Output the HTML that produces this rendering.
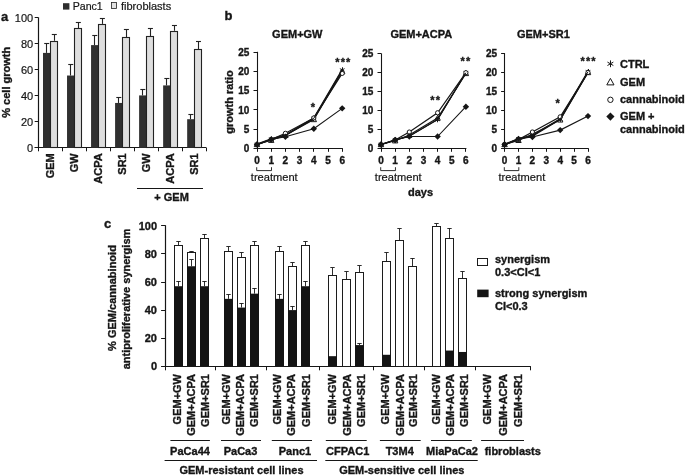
<!DOCTYPE html>
<html><head><meta charset="utf-8"><title>Figure</title>
<style>
html,body{margin:0;padding:0;background:#fff;}
body{width:685px;height:476px;overflow:hidden;font-family:"Liberation Sans",sans-serif;}
svg{display:block;will-change:transform;opacity:0.999;font-family:"Liberation Sans",sans-serif;}
</style></head><body>
<svg width="685" height="476" viewBox="0 0 685 476">
<rect width="685" height="476" fill="#ffffff"/>
<text x="1.00" y="21.00" font-size="13" font-weight="bold" stroke="#161616" stroke-width="0.35" text-anchor="start" fill="#161616">a</text>
<rect x="63.00" y="3.20" width="6.40" height="6.40" fill="#2e2e2e"/>
<text x="72.70" y="9.50" font-size="10.6" stroke="#161616" stroke-width="0.2" text-anchor="start" fill="#161616">Panc1</text>
<rect x="111.50" y="2.50" width="5.00" height="6.00" fill="#e2e2e2" stroke="#222" stroke-width="0.8"/>
<text x="121.00" y="9.60" font-size="11" stroke="#161616" stroke-width="0.2" text-anchor="start" fill="#161616">fibroblasts</text>
<line x1="38.50" y1="17.30" x2="38.50" y2="148.30" stroke="#161616" stroke-width="1.2"/>
<line x1="34.70" y1="147.50" x2="206.40" y2="147.50" stroke="#161616" stroke-width="1.2"/>
<line x1="34.70" y1="147.50" x2="38.20" y2="147.50" stroke="#161616" stroke-width="1"/>
<text x="33.20" y="151.70" font-size="11" stroke="#161616" stroke-width="0.2" text-anchor="end" fill="#161616">0</text>
<line x1="34.70" y1="121.50" x2="38.20" y2="121.50" stroke="#161616" stroke-width="1"/>
<text x="33.20" y="125.70" font-size="11" stroke="#161616" stroke-width="0.2" text-anchor="end" fill="#161616">20</text>
<line x1="34.70" y1="95.50" x2="38.20" y2="95.50" stroke="#161616" stroke-width="1"/>
<text x="33.20" y="99.70" font-size="11" stroke="#161616" stroke-width="0.2" text-anchor="end" fill="#161616">40</text>
<line x1="34.70" y1="69.50" x2="38.20" y2="69.50" stroke="#161616" stroke-width="1"/>
<text x="33.20" y="73.70" font-size="11" stroke="#161616" stroke-width="0.2" text-anchor="end" fill="#161616">60</text>
<line x1="34.70" y1="43.50" x2="38.20" y2="43.50" stroke="#161616" stroke-width="1"/>
<text x="33.20" y="47.70" font-size="11" stroke="#161616" stroke-width="0.2" text-anchor="end" fill="#161616">80</text>
<line x1="34.70" y1="17.50" x2="38.20" y2="17.50" stroke="#161616" stroke-width="1"/>
<text x="33.20" y="21.70" font-size="11" stroke="#161616" stroke-width="0.2" text-anchor="end" fill="#161616">100</text>
<line x1="38.50" y1="147.80" x2="38.50" y2="151.30" stroke="#161616" stroke-width="1"/>
<line x1="62.50" y1="147.80" x2="62.50" y2="151.30" stroke="#161616" stroke-width="1"/>
<line x1="86.50" y1="147.80" x2="86.50" y2="151.30" stroke="#161616" stroke-width="1"/>
<line x1="110.50" y1="147.80" x2="110.50" y2="151.30" stroke="#161616" stroke-width="1"/>
<line x1="134.50" y1="147.80" x2="134.50" y2="151.30" stroke="#161616" stroke-width="1"/>
<line x1="158.50" y1="147.80" x2="158.50" y2="151.30" stroke="#161616" stroke-width="1"/>
<line x1="182.50" y1="147.80" x2="182.50" y2="151.30" stroke="#161616" stroke-width="1"/>
<line x1="206.50" y1="147.80" x2="206.50" y2="151.30" stroke="#161616" stroke-width="1"/>
<text x="10.00" y="82.30" font-size="11" font-weight="bold" stroke="#161616" stroke-width="0.35" text-anchor="middle" transform="rotate(-90 10.00 82.30)" fill="#161616">% cell growth</text>
<rect x="43.00" y="52.90" width="7.40" height="94.90" fill="#303030"/>
<rect x="50.50" y="41.50" width="7.00" height="106.00" fill="#dedede" stroke="#222" stroke-width="1.1"/>
<line x1="46.50" y1="52.90" x2="46.50" y2="43.80" stroke="#222" stroke-width="1.1"/>
<line x1="44.20" y1="43.50" x2="49.20" y2="43.50" stroke="#222" stroke-width="1.1"/>
<line x1="54.50" y1="40.81" x2="54.50" y2="34.96" stroke="#222" stroke-width="1.1"/>
<line x1="51.80" y1="34.50" x2="56.80" y2="34.50" stroke="#222" stroke-width="1.1"/>
<text x="54.21" y="153.30" font-size="11" font-weight="bold" stroke="#161616" stroke-width="0.35" text-anchor="end" transform="rotate(-90 54.21 153.30)" fill="#161616">GEM</text>
<rect x="67.03" y="75.52" width="7.40" height="72.28" fill="#303030"/>
<rect x="74.50" y="28.50" width="7.00" height="119.00" fill="#dedede" stroke="#222" stroke-width="1.1"/>
<line x1="70.50" y1="75.52" x2="70.50" y2="64.60" stroke="#222" stroke-width="1.1"/>
<line x1="68.23" y1="64.50" x2="73.23" y2="64.50" stroke="#222" stroke-width="1.1"/>
<line x1="78.50" y1="28.20" x2="78.50" y2="22.35" stroke="#222" stroke-width="1.1"/>
<line x1="75.83" y1="22.50" x2="80.83" y2="22.50" stroke="#222" stroke-width="1.1"/>
<text x="78.24" y="153.30" font-size="11" font-weight="bold" stroke="#161616" stroke-width="0.35" text-anchor="end" transform="rotate(-90 78.24 153.30)" fill="#161616">GW</text>
<rect x="91.06" y="45.10" width="7.40" height="102.70" fill="#303030"/>
<rect x="98.50" y="24.50" width="7.00" height="123.00" fill="#dedede" stroke="#222" stroke-width="1.1"/>
<line x1="94.50" y1="45.10" x2="94.50" y2="35.22" stroke="#222" stroke-width="1.1"/>
<line x1="92.26" y1="35.50" x2="97.26" y2="35.50" stroke="#222" stroke-width="1.1"/>
<line x1="102.50" y1="23.91" x2="102.50" y2="18.45" stroke="#222" stroke-width="1.1"/>
<line x1="99.86" y1="18.50" x2="104.86" y2="18.50" stroke="#222" stroke-width="1.1"/>
<text x="102.27" y="153.30" font-size="11" font-weight="bold" stroke="#161616" stroke-width="0.35" text-anchor="end" transform="rotate(-90 102.27 153.30)" fill="#161616">ACPA</text>
<rect x="115.09" y="102.95" width="7.40" height="44.85" fill="#303030"/>
<rect x="122.50" y="37.50" width="7.00" height="110.00" fill="#dedede" stroke="#222" stroke-width="1.1"/>
<line x1="118.50" y1="102.95" x2="118.50" y2="97.62" stroke="#222" stroke-width="1.1"/>
<line x1="116.29" y1="97.50" x2="121.29" y2="97.50" stroke="#222" stroke-width="1.1"/>
<line x1="126.50" y1="37.30" x2="126.50" y2="29.50" stroke="#222" stroke-width="1.1"/>
<line x1="123.89" y1="29.50" x2="128.89" y2="29.50" stroke="#222" stroke-width="1.1"/>
<text x="126.30" y="153.30" font-size="11" font-weight="bold" stroke="#161616" stroke-width="0.35" text-anchor="end" transform="rotate(-90 126.30 153.30)" fill="#161616">SR1</text>
<rect x="139.11" y="95.41" width="7.40" height="52.39" fill="#303030"/>
<rect x="146.50" y="36.50" width="7.00" height="111.00" fill="#dedede" stroke="#222" stroke-width="1.1"/>
<line x1="142.50" y1="95.41" x2="142.50" y2="89.04" stroke="#222" stroke-width="1.1"/>
<line x1="140.31" y1="89.50" x2="145.31" y2="89.50" stroke="#222" stroke-width="1.1"/>
<line x1="150.50" y1="36.00" x2="150.50" y2="28.72" stroke="#222" stroke-width="1.1"/>
<line x1="147.91" y1="28.50" x2="152.91" y2="28.50" stroke="#222" stroke-width="1.1"/>
<text x="150.33" y="153.30" font-size="11" font-weight="bold" stroke="#161616" stroke-width="0.35" text-anchor="end" transform="rotate(-90 150.33 153.30)" fill="#161616">GW</text>
<rect x="163.14" y="85.40" width="7.40" height="62.40" fill="#303030"/>
<rect x="170.50" y="31.50" width="7.00" height="116.00" fill="#dedede" stroke="#222" stroke-width="1.1"/>
<line x1="166.50" y1="85.40" x2="166.50" y2="78.64" stroke="#222" stroke-width="1.1"/>
<line x1="164.34" y1="78.50" x2="169.34" y2="78.50" stroke="#222" stroke-width="1.1"/>
<line x1="174.50" y1="30.80" x2="174.50" y2="25.08" stroke="#222" stroke-width="1.1"/>
<line x1="171.94" y1="25.50" x2="176.94" y2="25.50" stroke="#222" stroke-width="1.1"/>
<text x="174.36" y="153.30" font-size="11" font-weight="bold" stroke="#161616" stroke-width="0.35" text-anchor="end" transform="rotate(-90 174.36 153.30)" fill="#161616">ACPA</text>
<rect x="187.17" y="119.20" width="7.40" height="28.60" fill="#303030"/>
<rect x="194.50" y="49.50" width="7.00" height="98.00" fill="#dedede" stroke="#222" stroke-width="1.1"/>
<line x1="190.50" y1="119.20" x2="190.50" y2="114.26" stroke="#222" stroke-width="1.1"/>
<line x1="188.37" y1="114.50" x2="193.37" y2="114.50" stroke="#222" stroke-width="1.1"/>
<line x1="198.50" y1="49.00" x2="198.50" y2="41.85" stroke="#222" stroke-width="1.1"/>
<line x1="195.97" y1="41.50" x2="200.97" y2="41.50" stroke="#222" stroke-width="1.1"/>
<text x="198.39" y="153.30" font-size="11" font-weight="bold" stroke="#161616" stroke-width="0.35" text-anchor="end" transform="rotate(-90 198.39 153.30)" fill="#161616">SR1</text>
<line x1="137.00" y1="188.50" x2="203.00" y2="188.50" stroke="#161616" stroke-width="1.1"/>
<text x="171.60" y="200.60" font-size="11" font-weight="bold" stroke="#161616" stroke-width="0.35" text-anchor="middle" fill="#161616">+ GEM</text>
<text x="224.50" y="19.60" font-size="13" font-weight="bold" stroke="#161616" stroke-width="0.35" text-anchor="start" fill="#161616">b</text>
<text x="232.90" y="102.00" font-size="11" font-weight="bold" stroke="#161616" stroke-width="0.35" text-anchor="middle" transform="rotate(-90 232.90 102.00)" fill="#161616">growth ratio</text>
<text x="297.30" y="37.50" font-size="11" font-weight="bold" stroke="#161616" stroke-width="0.35" text-anchor="middle" fill="#161616">GEM+GW</text>
<line x1="257.50" y1="51.80" x2="257.50" y2="148.80" stroke="#161616" stroke-width="1.1"/>
<line x1="254.00" y1="148.50" x2="342.70" y2="148.50" stroke="#161616" stroke-width="1.1"/>
<line x1="253.50" y1="148.50" x2="257.00" y2="148.50" stroke="#161616" stroke-width="1"/>
<text x="249.40" y="151.90" font-size="10" font-weight="bold" stroke="#161616" stroke-width="0.35" text-anchor="end" fill="#161616">0</text>
<line x1="253.50" y1="129.50" x2="257.00" y2="129.50" stroke="#161616" stroke-width="1"/>
<text x="249.40" y="132.70" font-size="10" font-weight="bold" stroke="#161616" stroke-width="0.35" text-anchor="end" fill="#161616">5</text>
<line x1="253.50" y1="109.50" x2="257.00" y2="109.50" stroke="#161616" stroke-width="1"/>
<text x="249.40" y="113.50" font-size="10" font-weight="bold" stroke="#161616" stroke-width="0.35" text-anchor="end" fill="#161616">10</text>
<line x1="253.50" y1="90.50" x2="257.00" y2="90.50" stroke="#161616" stroke-width="1"/>
<text x="249.40" y="94.30" font-size="10" font-weight="bold" stroke="#161616" stroke-width="0.35" text-anchor="end" fill="#161616">15</text>
<line x1="253.50" y1="71.50" x2="257.00" y2="71.50" stroke="#161616" stroke-width="1"/>
<text x="249.40" y="75.10" font-size="10" font-weight="bold" stroke="#161616" stroke-width="0.35" text-anchor="end" fill="#161616">20</text>
<line x1="253.50" y1="52.50" x2="257.00" y2="52.50" stroke="#161616" stroke-width="1"/>
<text x="249.40" y="55.90" font-size="10" font-weight="bold" stroke="#161616" stroke-width="0.35" text-anchor="end" fill="#161616">25</text>
<line x1="257.50" y1="148.30" x2="257.50" y2="151.80" stroke="#161616" stroke-width="1"/>
<text x="257.00" y="163.60" font-size="10" font-weight="bold" stroke="#161616" stroke-width="0.35" text-anchor="middle" fill="#161616">0</text>
<line x1="271.50" y1="148.30" x2="271.50" y2="151.80" stroke="#161616" stroke-width="1"/>
<text x="271.20" y="163.60" font-size="10" font-weight="bold" stroke="#161616" stroke-width="0.35" text-anchor="middle" fill="#161616">1</text>
<line x1="285.50" y1="148.30" x2="285.50" y2="151.80" stroke="#161616" stroke-width="1"/>
<text x="285.40" y="163.60" font-size="10" font-weight="bold" stroke="#161616" stroke-width="0.35" text-anchor="middle" fill="#161616">2</text>
<line x1="299.50" y1="148.30" x2="299.50" y2="151.80" stroke="#161616" stroke-width="1"/>
<text x="299.60" y="163.60" font-size="10" font-weight="bold" stroke="#161616" stroke-width="0.35" text-anchor="middle" fill="#161616">3</text>
<line x1="313.50" y1="148.30" x2="313.50" y2="151.80" stroke="#161616" stroke-width="1"/>
<text x="313.80" y="163.60" font-size="10" font-weight="bold" stroke="#161616" stroke-width="0.35" text-anchor="middle" fill="#161616">4</text>
<line x1="328.50" y1="148.30" x2="328.50" y2="151.80" stroke="#161616" stroke-width="1"/>
<text x="328.00" y="163.60" font-size="10" font-weight="bold" stroke="#161616" stroke-width="0.35" text-anchor="middle" fill="#161616">5</text>
<line x1="342.50" y1="148.30" x2="342.50" y2="151.80" stroke="#161616" stroke-width="1"/>
<text x="342.20" y="163.60" font-size="10" font-weight="bold" stroke="#161616" stroke-width="0.35" text-anchor="middle" fill="#161616">6</text>
<polyline fill="none" stroke="#161616" stroke-width="1.8" points="257.00,144.46 271.20,139.08 285.40,135.24 313.80,118.35 342.20,69.96"/>
<line x1="254.66" y1="143.11" x2="259.34" y2="145.81" stroke="#161616" stroke-width="1.0"/>
<line x1="257.50" y1="141.76" x2="257.50" y2="147.16" stroke="#161616" stroke-width="1.0"/>
<line x1="259.34" y1="143.11" x2="254.66" y2="145.81" stroke="#161616" stroke-width="1.0"/>
<line x1="268.86" y1="137.73" x2="273.54" y2="140.43" stroke="#161616" stroke-width="1.0"/>
<line x1="271.50" y1="136.38" x2="271.50" y2="141.78" stroke="#161616" stroke-width="1.0"/>
<line x1="273.54" y1="137.73" x2="268.86" y2="140.43" stroke="#161616" stroke-width="1.0"/>
<line x1="283.06" y1="133.89" x2="287.74" y2="136.59" stroke="#161616" stroke-width="1.0"/>
<line x1="285.50" y1="132.54" x2="285.50" y2="137.94" stroke="#161616" stroke-width="1.0"/>
<line x1="287.74" y1="133.89" x2="283.06" y2="136.59" stroke="#161616" stroke-width="1.0"/>
<line x1="311.46" y1="117.00" x2="316.14" y2="119.70" stroke="#161616" stroke-width="1.0"/>
<line x1="313.50" y1="115.65" x2="313.50" y2="121.05" stroke="#161616" stroke-width="1.0"/>
<line x1="316.14" y1="117.00" x2="311.46" y2="119.70" stroke="#161616" stroke-width="1.0"/>
<line x1="339.86" y1="68.61" x2="344.54" y2="71.31" stroke="#161616" stroke-width="1.0"/>
<line x1="342.50" y1="67.26" x2="342.50" y2="72.66" stroke="#161616" stroke-width="1.0"/>
<line x1="344.54" y1="68.61" x2="339.86" y2="71.31" stroke="#161616" stroke-width="1.0"/>
<polyline fill="none" stroke="#161616" stroke-width="1.2" points="257.00,144.46 271.20,140.24 285.40,135.24 313.80,119.50 342.20,71.50"/>
<polygon points="257.00,141.76 254.30,146.62 259.70,146.62" fill="#fff" fill-opacity="0" stroke="#161616" stroke-width="1.0"/>
<polygon points="271.20,137.54 268.50,142.40 273.90,142.40" fill="#fff" fill-opacity="0" stroke="#161616" stroke-width="1.0"/>
<polygon points="285.40,132.54 282.70,137.40 288.10,137.40" fill="#fff" fill-opacity="0" stroke="#161616" stroke-width="1.0"/>
<polygon points="313.80,116.80 311.10,121.66 316.50,121.66" fill="#fff" fill-opacity="0" stroke="#161616" stroke-width="1.0"/>
<polygon points="342.20,68.80 339.50,73.66 344.90,73.66" fill="#fff" fill-opacity="0" stroke="#161616" stroke-width="1.0"/>
<polyline fill="none" stroke="#161616" stroke-width="1.2" points="257.00,144.46 271.20,139.47 285.40,133.32 313.80,117.96 342.20,73.42"/>
<circle cx="257.00" cy="144.46" r="2.1" fill="#fff" stroke="#161616" stroke-width="1.0"/>
<circle cx="271.20" cy="139.47" r="2.1" fill="#fff" stroke="#161616" stroke-width="1.0"/>
<circle cx="285.40" cy="133.32" r="2.1" fill="#fff" stroke="#161616" stroke-width="1.0"/>
<circle cx="313.80" cy="117.96" r="2.1" fill="#fff" stroke="#161616" stroke-width="1.0"/>
<circle cx="342.20" cy="73.42" r="2.1" fill="#fff" stroke="#161616" stroke-width="1.0"/>
<polyline fill="none" stroke="#161616" stroke-width="1.0" points="257.00,144.46 271.20,139.08 285.40,135.24 313.80,118.35 342.20,69.96"/>
<polyline fill="none" stroke="#161616" stroke-width="1.1" points="257.00,144.46 271.20,139.47 285.40,136.78 313.80,128.72 342.20,108.36"/>
<polygon points="257.00,141.26 260.20,144.46 257.00,147.66 253.80,144.46" fill="#161616"/>
<polygon points="271.20,136.27 274.40,139.47 271.20,142.67 268.00,139.47" fill="#161616"/>
<polygon points="285.40,133.58 288.60,136.78 285.40,139.98 282.20,136.78" fill="#161616"/>
<polygon points="313.80,125.52 317.00,128.72 313.80,131.92 310.60,128.72" fill="#161616"/>
<polygon points="342.20,105.16 345.40,108.36 342.20,111.56 339.00,108.36" fill="#161616"/>
<polyline fill="none" stroke="#161616" stroke-width="0.9" points="256.70,167.2 256.70,170.6 271.50,170.6 271.50,167.2"/>
<text x="250.80" y="181.00" font-size="11.1" stroke="#161616" stroke-width="0.2" text-anchor="start" fill="#161616">treatment</text>
<text x="313.45" y="110.50" font-size="11" font-weight="bold" stroke="#161616" stroke-width="0.35" text-anchor="middle" fill="#161616" letter-spacing="1.1">*</text>
<text x="343.45" y="66.00" font-size="11" font-weight="bold" stroke="#161616" stroke-width="0.35" text-anchor="middle" fill="#161616" letter-spacing="1.1">***</text>
<text x="421.30" y="37.50" font-size="11" font-weight="bold" stroke="#161616" stroke-width="0.35" text-anchor="middle" fill="#161616">GEM+ACPA</text>
<line x1="381.50" y1="53.30" x2="381.50" y2="148.80" stroke="#161616" stroke-width="1.1"/>
<line x1="378.00" y1="148.50" x2="466.40" y2="148.50" stroke="#161616" stroke-width="1.1"/>
<line x1="377.50" y1="148.50" x2="381.00" y2="148.50" stroke="#161616" stroke-width="1"/>
<text x="373.40" y="151.90" font-size="10" font-weight="bold" stroke="#161616" stroke-width="0.35" text-anchor="end" fill="#161616">0</text>
<line x1="377.50" y1="129.50" x2="381.00" y2="129.50" stroke="#161616" stroke-width="1"/>
<text x="373.40" y="133.00" font-size="10" font-weight="bold" stroke="#161616" stroke-width="0.35" text-anchor="end" fill="#161616">5</text>
<line x1="377.50" y1="110.50" x2="381.00" y2="110.50" stroke="#161616" stroke-width="1"/>
<text x="373.40" y="114.10" font-size="10" font-weight="bold" stroke="#161616" stroke-width="0.35" text-anchor="end" fill="#161616">10</text>
<line x1="377.50" y1="91.50" x2="381.00" y2="91.50" stroke="#161616" stroke-width="1"/>
<text x="373.40" y="95.20" font-size="10" font-weight="bold" stroke="#161616" stroke-width="0.35" text-anchor="end" fill="#161616">15</text>
<line x1="377.50" y1="72.50" x2="381.00" y2="72.50" stroke="#161616" stroke-width="1"/>
<text x="373.40" y="76.30" font-size="10" font-weight="bold" stroke="#161616" stroke-width="0.35" text-anchor="end" fill="#161616">20</text>
<line x1="377.50" y1="53.50" x2="381.00" y2="53.50" stroke="#161616" stroke-width="1"/>
<text x="373.40" y="57.40" font-size="10" font-weight="bold" stroke="#161616" stroke-width="0.35" text-anchor="end" fill="#161616">25</text>
<line x1="381.50" y1="148.30" x2="381.50" y2="151.80" stroke="#161616" stroke-width="1"/>
<text x="381.00" y="163.60" font-size="10" font-weight="bold" stroke="#161616" stroke-width="0.35" text-anchor="middle" fill="#161616">0</text>
<line x1="395.50" y1="148.30" x2="395.50" y2="151.80" stroke="#161616" stroke-width="1"/>
<text x="395.15" y="163.60" font-size="10" font-weight="bold" stroke="#161616" stroke-width="0.35" text-anchor="middle" fill="#161616">1</text>
<line x1="409.50" y1="148.30" x2="409.50" y2="151.80" stroke="#161616" stroke-width="1"/>
<text x="409.30" y="163.60" font-size="10" font-weight="bold" stroke="#161616" stroke-width="0.35" text-anchor="middle" fill="#161616">2</text>
<line x1="423.50" y1="148.30" x2="423.50" y2="151.80" stroke="#161616" stroke-width="1"/>
<text x="423.45" y="163.60" font-size="10" font-weight="bold" stroke="#161616" stroke-width="0.35" text-anchor="middle" fill="#161616">3</text>
<line x1="437.50" y1="148.30" x2="437.50" y2="151.80" stroke="#161616" stroke-width="1"/>
<text x="437.60" y="163.60" font-size="10" font-weight="bold" stroke="#161616" stroke-width="0.35" text-anchor="middle" fill="#161616">4</text>
<line x1="451.50" y1="148.30" x2="451.50" y2="151.80" stroke="#161616" stroke-width="1"/>
<text x="451.75" y="163.60" font-size="10" font-weight="bold" stroke="#161616" stroke-width="0.35" text-anchor="middle" fill="#161616">5</text>
<line x1="465.50" y1="148.30" x2="465.50" y2="151.80" stroke="#161616" stroke-width="1"/>
<text x="465.90" y="163.60" font-size="10" font-weight="bold" stroke="#161616" stroke-width="0.35" text-anchor="middle" fill="#161616">6</text>
<polyline fill="none" stroke="#161616" stroke-width="1.3" points="381.00,144.52 395.15,139.98 409.30,136.20 437.60,119.57 465.90,72.70"/>
<line x1="378.66" y1="143.17" x2="383.34" y2="145.87" stroke="#161616" stroke-width="1.0"/>
<line x1="381.50" y1="141.82" x2="381.50" y2="147.22" stroke="#161616" stroke-width="1.0"/>
<line x1="383.34" y1="143.17" x2="378.66" y2="145.87" stroke="#161616" stroke-width="1.0"/>
<line x1="392.81" y1="138.63" x2="397.49" y2="141.33" stroke="#161616" stroke-width="1.0"/>
<line x1="395.50" y1="137.28" x2="395.50" y2="142.68" stroke="#161616" stroke-width="1.0"/>
<line x1="397.49" y1="138.63" x2="392.81" y2="141.33" stroke="#161616" stroke-width="1.0"/>
<line x1="406.96" y1="134.85" x2="411.64" y2="137.55" stroke="#161616" stroke-width="1.0"/>
<line x1="409.50" y1="133.50" x2="409.50" y2="138.90" stroke="#161616" stroke-width="1.0"/>
<line x1="411.64" y1="134.85" x2="406.96" y2="137.55" stroke="#161616" stroke-width="1.0"/>
<line x1="435.26" y1="118.22" x2="439.94" y2="120.92" stroke="#161616" stroke-width="1.0"/>
<line x1="437.50" y1="116.87" x2="437.50" y2="122.27" stroke="#161616" stroke-width="1.0"/>
<line x1="439.94" y1="118.22" x2="435.26" y2="120.92" stroke="#161616" stroke-width="1.0"/>
<line x1="463.56" y1="71.35" x2="468.24" y2="74.05" stroke="#161616" stroke-width="1.0"/>
<line x1="465.50" y1="70.00" x2="465.50" y2="75.40" stroke="#161616" stroke-width="1.0"/>
<line x1="468.24" y1="71.35" x2="463.56" y2="74.05" stroke="#161616" stroke-width="1.0"/>
<polyline fill="none" stroke="#161616" stroke-width="1.2" points="381.00,144.52 395.15,140.74 409.30,135.07 437.60,118.06 465.90,73.46"/>
<polygon points="381.00,141.82 378.30,146.68 383.70,146.68" fill="#fff" fill-opacity="0" stroke="#161616" stroke-width="1.0"/>
<polygon points="395.15,138.04 392.45,142.90 397.85,142.90" fill="#fff" fill-opacity="0" stroke="#161616" stroke-width="1.0"/>
<polygon points="409.30,132.37 406.60,137.23 412.00,137.23" fill="#fff" fill-opacity="0" stroke="#161616" stroke-width="1.0"/>
<polygon points="437.60,115.36 434.90,120.22 440.30,120.22" fill="#fff" fill-opacity="0" stroke="#161616" stroke-width="1.0"/>
<polygon points="465.90,70.76 463.20,75.62 468.60,75.62" fill="#fff" fill-opacity="0" stroke="#161616" stroke-width="1.0"/>
<polyline fill="none" stroke="#161616" stroke-width="1.2" points="381.00,144.52 395.15,139.98 409.30,132.05 437.60,112.77 465.90,72.70"/>
<circle cx="381.00" cy="144.52" r="2.1" fill="#fff" stroke="#161616" stroke-width="1.0"/>
<circle cx="395.15" cy="139.98" r="2.1" fill="#fff" stroke="#161616" stroke-width="1.0"/>
<circle cx="409.30" cy="132.05" r="2.1" fill="#fff" stroke="#161616" stroke-width="1.0"/>
<circle cx="437.60" cy="112.77" r="2.1" fill="#fff" stroke="#161616" stroke-width="1.0"/>
<circle cx="465.90" cy="72.70" r="2.1" fill="#fff" stroke="#161616" stroke-width="1.0"/>
<polyline fill="none" stroke="#161616" stroke-width="1.0" points="381.00,144.52 395.15,139.98 409.30,136.20 437.60,119.57 465.90,72.70"/>
<polyline fill="none" stroke="#161616" stroke-width="1.1" points="381.00,144.52 395.15,139.98 409.30,136.51 437.60,136.51 465.90,106.72"/>
<polygon points="381.00,141.32 384.20,144.52 381.00,147.72 377.80,144.52" fill="#161616"/>
<polygon points="395.15,136.78 398.35,139.98 395.15,143.18 391.95,139.98" fill="#161616"/>
<polygon points="409.30,133.31 412.50,136.51 409.30,139.71 406.10,136.51" fill="#161616"/>
<polygon points="437.60,133.31 440.80,136.51 437.60,139.71 434.40,136.51" fill="#161616"/>
<polygon points="465.90,103.52 469.10,106.72 465.90,109.92 462.70,106.72" fill="#161616"/>
<polyline fill="none" stroke="#161616" stroke-width="0.9" points="380.70,167.2 380.70,170.6 395.45,170.6 395.45,167.2"/>
<text x="374.80" y="181.00" font-size="11.1" stroke="#161616" stroke-width="0.2" text-anchor="start" fill="#161616">treatment</text>
<text x="435.65" y="104.40" font-size="11" font-weight="bold" stroke="#161616" stroke-width="0.35" text-anchor="middle" fill="#161616" letter-spacing="1.1">**</text>
<text x="465.95" y="65.10" font-size="11" font-weight="bold" stroke="#161616" stroke-width="0.35" text-anchor="middle" fill="#161616" letter-spacing="1.1">**</text>
<text x="543.40" y="37.50" font-size="11" font-weight="bold" stroke="#161616" stroke-width="0.35" text-anchor="middle" fill="#161616">GEM+SR1</text>
<line x1="504.50" y1="53.05" x2="504.50" y2="148.80" stroke="#161616" stroke-width="1.1"/>
<line x1="501.60" y1="148.50" x2="588.50" y2="148.50" stroke="#161616" stroke-width="1.1"/>
<line x1="501.10" y1="148.50" x2="504.60" y2="148.50" stroke="#161616" stroke-width="1"/>
<text x="497.00" y="151.90" font-size="10" font-weight="bold" stroke="#161616" stroke-width="0.35" text-anchor="end" fill="#161616">0</text>
<line x1="501.10" y1="129.50" x2="504.60" y2="129.50" stroke="#161616" stroke-width="1"/>
<text x="497.00" y="132.95" font-size="10" font-weight="bold" stroke="#161616" stroke-width="0.35" text-anchor="end" fill="#161616">5</text>
<line x1="501.10" y1="110.50" x2="504.60" y2="110.50" stroke="#161616" stroke-width="1"/>
<text x="497.00" y="114.00" font-size="10" font-weight="bold" stroke="#161616" stroke-width="0.35" text-anchor="end" fill="#161616">10</text>
<line x1="501.10" y1="91.50" x2="504.60" y2="91.50" stroke="#161616" stroke-width="1"/>
<text x="497.00" y="95.05" font-size="10" font-weight="bold" stroke="#161616" stroke-width="0.35" text-anchor="end" fill="#161616">15</text>
<line x1="501.10" y1="72.50" x2="504.60" y2="72.50" stroke="#161616" stroke-width="1"/>
<text x="497.00" y="76.10" font-size="10" font-weight="bold" stroke="#161616" stroke-width="0.35" text-anchor="end" fill="#161616">20</text>
<line x1="501.10" y1="53.50" x2="504.60" y2="53.50" stroke="#161616" stroke-width="1"/>
<text x="497.00" y="57.15" font-size="10" font-weight="bold" stroke="#161616" stroke-width="0.35" text-anchor="end" fill="#161616">25</text>
<line x1="504.50" y1="148.30" x2="504.50" y2="151.80" stroke="#161616" stroke-width="1"/>
<text x="504.60" y="163.60" font-size="10" font-weight="bold" stroke="#161616" stroke-width="0.35" text-anchor="middle" fill="#161616">0</text>
<line x1="518.50" y1="148.30" x2="518.50" y2="151.80" stroke="#161616" stroke-width="1"/>
<text x="518.50" y="163.60" font-size="10" font-weight="bold" stroke="#161616" stroke-width="0.35" text-anchor="middle" fill="#161616">1</text>
<line x1="532.50" y1="148.30" x2="532.50" y2="151.80" stroke="#161616" stroke-width="1"/>
<text x="532.40" y="163.60" font-size="10" font-weight="bold" stroke="#161616" stroke-width="0.35" text-anchor="middle" fill="#161616">2</text>
<line x1="546.50" y1="148.30" x2="546.50" y2="151.80" stroke="#161616" stroke-width="1"/>
<text x="546.30" y="163.60" font-size="10" font-weight="bold" stroke="#161616" stroke-width="0.35" text-anchor="middle" fill="#161616">3</text>
<line x1="560.50" y1="148.30" x2="560.50" y2="151.80" stroke="#161616" stroke-width="1"/>
<text x="560.20" y="163.60" font-size="10" font-weight="bold" stroke="#161616" stroke-width="0.35" text-anchor="middle" fill="#161616">4</text>
<line x1="574.50" y1="148.30" x2="574.50" y2="151.80" stroke="#161616" stroke-width="1"/>
<text x="574.10" y="163.60" font-size="10" font-weight="bold" stroke="#161616" stroke-width="0.35" text-anchor="middle" fill="#161616">5</text>
<line x1="588.50" y1="148.30" x2="588.50" y2="151.80" stroke="#161616" stroke-width="1"/>
<text x="588.00" y="163.60" font-size="10" font-weight="bold" stroke="#161616" stroke-width="0.35" text-anchor="middle" fill="#161616">6</text>
<polyline fill="none" stroke="#161616" stroke-width="1.8" points="504.60,144.51 518.50,138.83 532.40,135.79 560.20,119.12 588.00,71.74"/>
<line x1="502.26" y1="143.16" x2="506.94" y2="145.86" stroke="#161616" stroke-width="1.0"/>
<line x1="504.50" y1="141.81" x2="504.50" y2="147.21" stroke="#161616" stroke-width="1.0"/>
<line x1="506.94" y1="143.16" x2="502.26" y2="145.86" stroke="#161616" stroke-width="1.0"/>
<line x1="516.16" y1="137.48" x2="520.84" y2="140.18" stroke="#161616" stroke-width="1.0"/>
<line x1="518.50" y1="136.13" x2="518.50" y2="141.53" stroke="#161616" stroke-width="1.0"/>
<line x1="520.84" y1="137.48" x2="516.16" y2="140.18" stroke="#161616" stroke-width="1.0"/>
<line x1="530.06" y1="134.44" x2="534.74" y2="137.14" stroke="#161616" stroke-width="1.0"/>
<line x1="532.50" y1="133.09" x2="532.50" y2="138.49" stroke="#161616" stroke-width="1.0"/>
<line x1="534.74" y1="134.44" x2="530.06" y2="137.14" stroke="#161616" stroke-width="1.0"/>
<line x1="557.86" y1="117.77" x2="562.54" y2="120.47" stroke="#161616" stroke-width="1.0"/>
<line x1="560.50" y1="116.42" x2="560.50" y2="121.82" stroke="#161616" stroke-width="1.0"/>
<line x1="562.54" y1="117.77" x2="557.86" y2="120.47" stroke="#161616" stroke-width="1.0"/>
<line x1="585.66" y1="70.39" x2="590.34" y2="73.09" stroke="#161616" stroke-width="1.0"/>
<line x1="588.50" y1="69.04" x2="588.50" y2="74.44" stroke="#161616" stroke-width="1.0"/>
<line x1="590.34" y1="70.39" x2="585.66" y2="73.09" stroke="#161616" stroke-width="1.0"/>
<polyline fill="none" stroke="#161616" stroke-width="1.2" points="504.60,144.51 518.50,140.34 532.40,134.28 560.20,119.88 588.00,72.50"/>
<polygon points="504.60,141.81 501.90,146.67 507.30,146.67" fill="#fff" fill-opacity="0" stroke="#161616" stroke-width="1.0"/>
<polygon points="518.50,137.64 515.80,142.50 521.20,142.50" fill="#fff" fill-opacity="0" stroke="#161616" stroke-width="1.0"/>
<polygon points="532.40,131.58 529.70,136.44 535.10,136.44" fill="#fff" fill-opacity="0" stroke="#161616" stroke-width="1.0"/>
<polygon points="560.20,117.18 557.50,122.04 562.90,122.04" fill="#fff" fill-opacity="0" stroke="#161616" stroke-width="1.0"/>
<polygon points="588.00,69.80 585.30,74.66 590.70,74.66" fill="#fff" fill-opacity="0" stroke="#161616" stroke-width="1.0"/>
<polyline fill="none" stroke="#161616" stroke-width="1.2" points="504.60,144.51 518.50,139.58 532.40,132.00 560.20,116.84 588.00,72.50"/>
<circle cx="504.60" cy="144.51" r="2.1" fill="#fff" stroke="#161616" stroke-width="1.0"/>
<circle cx="518.50" cy="139.58" r="2.1" fill="#fff" stroke="#161616" stroke-width="1.0"/>
<circle cx="532.40" cy="132.00" r="2.1" fill="#fff" stroke="#161616" stroke-width="1.0"/>
<circle cx="560.20" cy="116.84" r="2.1" fill="#fff" stroke="#161616" stroke-width="1.0"/>
<circle cx="588.00" cy="72.50" r="2.1" fill="#fff" stroke="#161616" stroke-width="1.0"/>
<polyline fill="none" stroke="#161616" stroke-width="1.0" points="504.60,144.51 518.50,138.83 532.40,135.79 560.20,119.12 588.00,71.74"/>
<polyline fill="none" stroke="#161616" stroke-width="1.1" points="504.60,144.51 518.50,138.83 532.40,136.93 560.20,130.11 588.00,116.09"/>
<polygon points="504.60,141.31 507.80,144.51 504.60,147.71 501.40,144.51" fill="#161616"/>
<polygon points="518.50,135.63 521.70,138.83 518.50,142.03 515.30,138.83" fill="#161616"/>
<polygon points="532.40,133.73 535.60,136.93 532.40,140.13 529.20,136.93" fill="#161616"/>
<polygon points="560.20,126.91 563.40,130.11 560.20,133.31 557.00,130.11" fill="#161616"/>
<polygon points="588.00,112.89 591.20,116.09 588.00,119.29 584.80,116.09" fill="#161616"/>
<polyline fill="none" stroke="#161616" stroke-width="0.9" points="504.30,167.2 504.30,170.6 518.80,170.6 518.80,167.2"/>
<text x="498.40" y="181.00" font-size="11.1" stroke="#161616" stroke-width="0.2" text-anchor="start" fill="#161616">treatment</text>
<text x="558.15" y="106.90" font-size="11" font-weight="bold" stroke="#161616" stroke-width="0.35" text-anchor="middle" fill="#161616" letter-spacing="1.1">*</text>
<text x="588.65" y="64.50" font-size="11" font-weight="bold" stroke="#161616" stroke-width="0.35" text-anchor="middle" fill="#161616" letter-spacing="1.1">***</text>
<text x="420.50" y="196.20" font-size="11" font-weight="bold" stroke="#161616" stroke-width="0.35" text-anchor="middle" fill="#161616">days</text>
<line x1="607.46" y1="62.10" x2="613.34" y2="65.50" stroke="#161616" stroke-width="1.0"/>
<line x1="610.50" y1="60.40" x2="610.50" y2="67.20" stroke="#161616" stroke-width="1.0"/>
<line x1="613.34" y1="62.10" x2="607.46" y2="65.50" stroke="#161616" stroke-width="1.0"/>
<text x="620.00" y="67.70" font-size="11" font-weight="bold" stroke="#161616" stroke-width="0.35" text-anchor="start" fill="#161616">CTRL</text>
<polygon points="610.40,78.40 606.80,84.88 614.00,84.88" fill="#fff" fill-opacity="0" stroke="#161616" stroke-width="1.0"/>
<text x="620.00" y="85.60" font-size="11" font-weight="bold" stroke="#161616" stroke-width="0.35" text-anchor="start" fill="#161616">GEM</text>
<circle cx="610.40" cy="99.80" r="2.7" fill="#fff" stroke="#161616" stroke-width="1.0"/>
<text x="620.00" y="103.10" font-size="11" font-weight="bold" stroke="#161616" stroke-width="0.35" text-anchor="start" fill="#161616">cannabinoid</text>
<polygon points="610.40,112.50 614.50,116.60 610.40,120.70 606.30,116.60" fill="#161616"/>
<text x="620.00" y="119.50" font-size="11" font-weight="bold" stroke="#161616" stroke-width="0.35" text-anchor="start" fill="#161616">GEM +</text>
<text x="620.00" y="132.50" font-size="11" font-weight="bold" stroke="#161616" stroke-width="0.35" text-anchor="start" fill="#161616">cannabinoid</text>
<text x="104.00" y="228.30" font-size="13" font-weight="bold" stroke="#161616" stroke-width="0.35" text-anchor="start" fill="#161616">c</text>
<line x1="165.50" y1="225.30" x2="165.50" y2="366.80" stroke="#161616" stroke-width="1.2"/>
<line x1="161.60" y1="366.50" x2="530.80" y2="366.50" stroke="#161616" stroke-width="1.2"/>
<line x1="161.10" y1="366.50" x2="165.60" y2="366.50" stroke="#161616" stroke-width="1"/>
<text x="157.00" y="370.30" font-size="11" font-weight="bold" stroke="#161616" stroke-width="0.35" text-anchor="end" fill="#161616">0</text>
<line x1="161.10" y1="338.50" x2="165.60" y2="338.50" stroke="#161616" stroke-width="1"/>
<text x="157.00" y="342.20" font-size="11" font-weight="bold" stroke="#161616" stroke-width="0.35" text-anchor="end" fill="#161616">20</text>
<line x1="161.10" y1="310.50" x2="165.60" y2="310.50" stroke="#161616" stroke-width="1"/>
<text x="157.00" y="314.10" font-size="11" font-weight="bold" stroke="#161616" stroke-width="0.35" text-anchor="end" fill="#161616">40</text>
<line x1="161.10" y1="282.50" x2="165.60" y2="282.50" stroke="#161616" stroke-width="1"/>
<text x="157.00" y="286.00" font-size="11" font-weight="bold" stroke="#161616" stroke-width="0.35" text-anchor="end" fill="#161616">60</text>
<line x1="161.10" y1="253.50" x2="165.60" y2="253.50" stroke="#161616" stroke-width="1"/>
<text x="157.00" y="257.90" font-size="11" font-weight="bold" stroke="#161616" stroke-width="0.35" text-anchor="end" fill="#161616">80</text>
<line x1="161.10" y1="225.50" x2="165.60" y2="225.50" stroke="#161616" stroke-width="1"/>
<text x="157.00" y="229.80" font-size="11" font-weight="bold" stroke="#161616" stroke-width="0.35" text-anchor="end" fill="#161616">100</text>
<line x1="165.50" y1="366.30" x2="165.50" y2="370.30" stroke="#161616" stroke-width="1"/>
<line x1="215.50" y1="366.30" x2="215.50" y2="370.30" stroke="#161616" stroke-width="1"/>
<line x1="266.50" y1="366.30" x2="266.50" y2="370.30" stroke="#161616" stroke-width="1"/>
<line x1="319.50" y1="366.30" x2="319.50" y2="370.30" stroke="#161616" stroke-width="1"/>
<line x1="373.50" y1="366.30" x2="373.50" y2="370.30" stroke="#161616" stroke-width="1"/>
<line x1="424.50" y1="366.30" x2="424.50" y2="370.30" stroke="#161616" stroke-width="1"/>
<line x1="475.50" y1="366.30" x2="475.50" y2="370.30" stroke="#161616" stroke-width="1"/>
<line x1="530.50" y1="366.30" x2="530.50" y2="370.30" stroke="#161616" stroke-width="1"/>
<text x="116.00" y="298.00" font-size="11" font-weight="bold" stroke="#161616" stroke-width="0.35" text-anchor="middle" transform="rotate(-90 116.00 298.00)" fill="#161616">% GEM/cannabinoid</text>
<text x="130.00" y="299.00" font-size="11" font-weight="bold" stroke="#161616" stroke-width="0.35" text-anchor="middle" transform="rotate(-90 130.00 299.00)" fill="#161616">antiproliferative synergism</text>
<rect x="174.5" y="245.5" width="8" height="121.00" fill="#fff" stroke="#1c1c1c" stroke-width="1"/>
<rect x="174" y="286.22" width="9" height="80.09" fill="#141414"/>
<line x1="178.50" y1="245.75" x2="178.50" y2="241.54" stroke="#161616" stroke-width="0.9"/>
<line x1="176.30" y1="241.50" x2="180.70" y2="241.50" stroke="#161616" stroke-width="0.9"/>
<line x1="178.50" y1="286.22" x2="178.50" y2="281.16" stroke="#161616" stroke-width="0.9"/>
<line x1="176.30" y1="281.50" x2="180.70" y2="281.50" stroke="#161616" stroke-width="0.9"/>
<rect x="187.5" y="252.5" width="8" height="114.00" fill="#fff" stroke="#1c1c1c" stroke-width="1"/>
<rect x="187" y="266.26" width="9" height="100.04" fill="#141414"/>
<line x1="191.50" y1="252.78" x2="191.50" y2="251.65" stroke="#161616" stroke-width="0.9"/>
<line x1="189.30" y1="251.50" x2="193.70" y2="251.50" stroke="#161616" stroke-width="0.9"/>
<line x1="191.50" y1="266.26" x2="191.50" y2="259.94" stroke="#161616" stroke-width="0.9"/>
<line x1="189.30" y1="259.50" x2="193.70" y2="259.50" stroke="#161616" stroke-width="0.9"/>
<rect x="200.5" y="238.5" width="8" height="128.00" fill="#fff" stroke="#1c1c1c" stroke-width="1"/>
<rect x="200" y="286.22" width="9" height="80.09" fill="#141414"/>
<line x1="204.50" y1="238.44" x2="204.50" y2="234.23" stroke="#161616" stroke-width="0.9"/>
<line x1="202.30" y1="234.50" x2="206.70" y2="234.50" stroke="#161616" stroke-width="0.9"/>
<line x1="204.50" y1="286.22" x2="204.50" y2="281.16" stroke="#161616" stroke-width="0.9"/>
<line x1="202.30" y1="281.50" x2="206.70" y2="281.50" stroke="#161616" stroke-width="0.9"/>
<rect x="224.5" y="251.5" width="8" height="115.00" fill="#fff" stroke="#1c1c1c" stroke-width="1"/>
<rect x="224" y="298.86" width="9" height="67.44" fill="#141414"/>
<line x1="228.50" y1="251.09" x2="228.50" y2="246.88" stroke="#161616" stroke-width="0.9"/>
<line x1="226.30" y1="246.50" x2="230.70" y2="246.50" stroke="#161616" stroke-width="0.9"/>
<line x1="228.50" y1="298.86" x2="228.50" y2="294.64" stroke="#161616" stroke-width="0.9"/>
<line x1="226.30" y1="294.50" x2="230.70" y2="294.50" stroke="#161616" stroke-width="0.9"/>
<rect x="237.5" y="257.5" width="8" height="109.00" fill="#fff" stroke="#1c1c1c" stroke-width="1"/>
<rect x="237" y="307.57" width="9" height="58.73" fill="#141414"/>
<line x1="241.50" y1="257.41" x2="241.50" y2="252.78" stroke="#161616" stroke-width="0.9"/>
<line x1="239.30" y1="252.50" x2="243.70" y2="252.50" stroke="#161616" stroke-width="0.9"/>
<line x1="241.50" y1="307.57" x2="241.50" y2="303.36" stroke="#161616" stroke-width="0.9"/>
<line x1="239.30" y1="303.50" x2="243.70" y2="303.50" stroke="#161616" stroke-width="0.9"/>
<rect x="250.5" y="245.5" width="8" height="121.00" fill="#fff" stroke="#1c1c1c" stroke-width="1"/>
<rect x="250" y="293.66" width="9" height="72.64" fill="#141414"/>
<line x1="254.50" y1="245.75" x2="254.50" y2="241.54" stroke="#161616" stroke-width="0.9"/>
<line x1="252.30" y1="241.50" x2="256.70" y2="241.50" stroke="#161616" stroke-width="0.9"/>
<line x1="254.50" y1="293.66" x2="254.50" y2="288.32" stroke="#161616" stroke-width="0.9"/>
<line x1="252.30" y1="288.50" x2="256.70" y2="288.50" stroke="#161616" stroke-width="0.9"/>
<rect x="275.5" y="251.5" width="8" height="115.00" fill="#fff" stroke="#1c1c1c" stroke-width="1"/>
<rect x="275" y="298.86" width="9" height="67.44" fill="#141414"/>
<line x1="279.50" y1="251.09" x2="279.50" y2="246.88" stroke="#161616" stroke-width="0.9"/>
<line x1="277.30" y1="246.50" x2="281.70" y2="246.50" stroke="#161616" stroke-width="0.9"/>
<line x1="279.50" y1="298.86" x2="279.50" y2="294.64" stroke="#161616" stroke-width="0.9"/>
<line x1="277.30" y1="294.50" x2="281.70" y2="294.50" stroke="#161616" stroke-width="0.9"/>
<rect x="288.5" y="266.5" width="8" height="100.00" fill="#fff" stroke="#1c1c1c" stroke-width="1"/>
<rect x="288" y="310.10" width="9" height="56.20" fill="#141414"/>
<line x1="292.50" y1="266.55" x2="292.50" y2="262.61" stroke="#161616" stroke-width="0.9"/>
<line x1="290.30" y1="262.50" x2="294.70" y2="262.50" stroke="#161616" stroke-width="0.9"/>
<line x1="292.50" y1="310.10" x2="292.50" y2="306.31" stroke="#161616" stroke-width="0.9"/>
<line x1="290.30" y1="306.50" x2="294.70" y2="306.50" stroke="#161616" stroke-width="0.9"/>
<rect x="301.5" y="245.5" width="8" height="121.00" fill="#fff" stroke="#1c1c1c" stroke-width="1"/>
<rect x="301" y="286.22" width="9" height="80.09" fill="#141414"/>
<line x1="305.50" y1="245.75" x2="305.50" y2="241.54" stroke="#161616" stroke-width="0.9"/>
<line x1="303.30" y1="241.50" x2="307.70" y2="241.50" stroke="#161616" stroke-width="0.9"/>
<line x1="305.50" y1="286.22" x2="305.50" y2="281.58" stroke="#161616" stroke-width="0.9"/>
<line x1="303.30" y1="281.50" x2="307.70" y2="281.50" stroke="#161616" stroke-width="0.9"/>
<rect x="328.5" y="275.5" width="8" height="91.00" fill="#fff" stroke="#1c1c1c" stroke-width="1"/>
<rect x="328" y="356.18" width="9" height="10.12" fill="#141414"/>
<line x1="332.50" y1="275.68" x2="332.50" y2="267.95" stroke="#161616" stroke-width="0.9"/>
<line x1="330.30" y1="267.50" x2="334.70" y2="267.50" stroke="#161616" stroke-width="0.9"/>
<rect x="342.5" y="279.5" width="8" height="87.00" fill="#fff" stroke="#1c1c1c" stroke-width="1"/>
<line x1="346.50" y1="279.89" x2="346.50" y2="271.74" stroke="#161616" stroke-width="0.9"/>
<line x1="344.30" y1="271.50" x2="348.70" y2="271.50" stroke="#161616" stroke-width="0.9"/>
<rect x="355.5" y="272.5" width="8" height="94.00" fill="#fff" stroke="#1c1c1c" stroke-width="1"/>
<rect x="355" y="345.08" width="9" height="21.22" fill="#141414"/>
<line x1="359.50" y1="272.59" x2="359.50" y2="265.84" stroke="#161616" stroke-width="0.9"/>
<line x1="357.30" y1="265.50" x2="361.70" y2="265.50" stroke="#161616" stroke-width="0.9"/>
<line x1="359.50" y1="345.08" x2="359.50" y2="343.82" stroke="#161616" stroke-width="0.9"/>
<line x1="357.30" y1="343.50" x2="361.70" y2="343.50" stroke="#161616" stroke-width="0.9"/>
<rect x="382.5" y="261.5" width="8" height="105.00" fill="#fff" stroke="#1c1c1c" stroke-width="1"/>
<rect x="382" y="354.78" width="9" height="11.52" fill="#141414"/>
<line x1="386.50" y1="261.63" x2="386.50" y2="252.78" stroke="#161616" stroke-width="0.9"/>
<line x1="384.30" y1="252.50" x2="388.70" y2="252.50" stroke="#161616" stroke-width="0.9"/>
<rect x="395.5" y="240.5" width="8" height="126.00" fill="#fff" stroke="#1c1c1c" stroke-width="1"/>
<line x1="399.50" y1="240.13" x2="399.50" y2="228.89" stroke="#161616" stroke-width="0.9"/>
<line x1="397.30" y1="228.50" x2="401.70" y2="228.50" stroke="#161616" stroke-width="0.9"/>
<rect x="408.5" y="266.5" width="8" height="100.00" fill="#fff" stroke="#1c1c1c" stroke-width="1"/>
<line x1="412.50" y1="266.55" x2="412.50" y2="258.12" stroke="#161616" stroke-width="0.9"/>
<line x1="410.30" y1="258.50" x2="414.70" y2="258.50" stroke="#161616" stroke-width="0.9"/>
<rect x="432.5" y="226.5" width="8" height="140.00" fill="#fff" stroke="#1c1c1c" stroke-width="1"/>
<line x1="436.50" y1="226.22" x2="436.50" y2="223.69" stroke="#161616" stroke-width="0.9"/>
<line x1="434.30" y1="223.50" x2="438.70" y2="223.50" stroke="#161616" stroke-width="0.9"/>
<rect x="445.5" y="238.5" width="8" height="128.00" fill="#fff" stroke="#1c1c1c" stroke-width="1"/>
<rect x="445" y="350.56" width="9" height="15.74" fill="#141414"/>
<line x1="449.50" y1="238.44" x2="449.50" y2="228.33" stroke="#161616" stroke-width="0.9"/>
<line x1="447.30" y1="228.50" x2="451.70" y2="228.50" stroke="#161616" stroke-width="0.9"/>
<rect x="458.5" y="278.5" width="8" height="88.00" fill="#fff" stroke="#1c1c1c" stroke-width="1"/>
<rect x="458" y="351.97" width="9" height="14.33" fill="#141414"/>
<line x1="462.50" y1="278.49" x2="462.50" y2="271.46" stroke="#161616" stroke-width="0.9"/>
<line x1="460.30" y1="271.50" x2="464.70" y2="271.50" stroke="#161616" stroke-width="0.9"/>
<text x="181.10" y="374.00" font-size="11" font-weight="bold" stroke="#161616" stroke-width="0.35" text-anchor="end" transform="rotate(-90 181.10 374.00)" fill="#161616">GEM+GW</text>
<text x="194.80" y="374.00" font-size="11" font-weight="bold" stroke="#161616" stroke-width="0.35" text-anchor="end" transform="rotate(-90 194.80 374.00)" fill="#161616">GEM+ACPA</text>
<text x="209.40" y="374.00" font-size="11" font-weight="bold" stroke="#161616" stroke-width="0.35" text-anchor="end" transform="rotate(-90 209.40 374.00)" fill="#161616">GEM+SR1</text>
<text x="230.40" y="374.00" font-size="11" font-weight="bold" stroke="#161616" stroke-width="0.35" text-anchor="end" transform="rotate(-90 230.40 374.00)" fill="#161616">GEM+GW</text>
<text x="244.40" y="374.00" font-size="11" font-weight="bold" stroke="#161616" stroke-width="0.35" text-anchor="end" transform="rotate(-90 244.40 374.00)" fill="#161616">GEM+ACPA</text>
<text x="258.40" y="374.00" font-size="11" font-weight="bold" stroke="#161616" stroke-width="0.35" text-anchor="end" transform="rotate(-90 258.40 374.00)" fill="#161616">GEM+SR1</text>
<text x="280.90" y="374.00" font-size="11" font-weight="bold" stroke="#161616" stroke-width="0.35" text-anchor="end" transform="rotate(-90 280.90 374.00)" fill="#161616">GEM+GW</text>
<text x="294.90" y="374.00" font-size="11" font-weight="bold" stroke="#161616" stroke-width="0.35" text-anchor="end" transform="rotate(-90 294.90 374.00)" fill="#161616">GEM+ACPA</text>
<text x="309.50" y="374.00" font-size="11" font-weight="bold" stroke="#161616" stroke-width="0.35" text-anchor="end" transform="rotate(-90 309.50 374.00)" fill="#161616">GEM+SR1</text>
<text x="336.20" y="374.00" font-size="11" font-weight="bold" stroke="#161616" stroke-width="0.35" text-anchor="end" transform="rotate(-90 336.20 374.00)" fill="#161616">GEM+GW</text>
<text x="350.80" y="374.00" font-size="11" font-weight="bold" stroke="#161616" stroke-width="0.35" text-anchor="end" transform="rotate(-90 350.80 374.00)" fill="#161616">GEM+ACPA</text>
<text x="365.40" y="374.00" font-size="11" font-weight="bold" stroke="#161616" stroke-width="0.35" text-anchor="end" transform="rotate(-90 365.40 374.00)" fill="#161616">GEM+SR1</text>
<text x="389.00" y="374.00" font-size="11" font-weight="bold" stroke="#161616" stroke-width="0.35" text-anchor="end" transform="rotate(-90 389.00 374.00)" fill="#161616">GEM+GW</text>
<text x="403.60" y="374.00" font-size="11" font-weight="bold" stroke="#161616" stroke-width="0.35" text-anchor="end" transform="rotate(-90 403.60 374.00)" fill="#161616">GEM+ACPA</text>
<text x="417.30" y="374.00" font-size="11" font-weight="bold" stroke="#161616" stroke-width="0.35" text-anchor="end" transform="rotate(-90 417.30 374.00)" fill="#161616">GEM+SR1</text>
<text x="439.80" y="374.00" font-size="11" font-weight="bold" stroke="#161616" stroke-width="0.35" text-anchor="end" transform="rotate(-90 439.80 374.00)" fill="#161616">GEM+GW</text>
<text x="454.40" y="374.00" font-size="11" font-weight="bold" stroke="#161616" stroke-width="0.35" text-anchor="end" transform="rotate(-90 454.40 374.00)" fill="#161616">GEM+ACPA</text>
<text x="467.80" y="374.00" font-size="11" font-weight="bold" stroke="#161616" stroke-width="0.35" text-anchor="end" transform="rotate(-90 467.80 374.00)" fill="#161616">GEM+SR1</text>
<text x="491.40" y="374.00" font-size="11" font-weight="bold" stroke="#161616" stroke-width="0.35" text-anchor="end" transform="rotate(-90 491.40 374.00)" fill="#161616">GEM+GW</text>
<text x="506.90" y="374.00" font-size="11" font-weight="bold" stroke="#161616" stroke-width="0.35" text-anchor="end" transform="rotate(-90 506.90 374.00)" fill="#161616">GEM+ACPA</text>
<text x="522.10" y="374.00" font-size="11" font-weight="bold" stroke="#161616" stroke-width="0.35" text-anchor="end" transform="rotate(-90 522.10 374.00)" fill="#161616">GEM+SR1</text>
<line x1="170.40" y1="440.50" x2="209.90" y2="440.50" stroke="#161616" stroke-width="1.1"/>
<text x="190.00" y="454.60" font-size="11" font-weight="bold" stroke="#161616" stroke-width="0.35" text-anchor="middle" fill="#161616">PaCa44</text>
<line x1="221.00" y1="440.50" x2="261.00" y2="440.50" stroke="#161616" stroke-width="1.1"/>
<text x="240.50" y="454.60" font-size="11" font-weight="bold" stroke="#161616" stroke-width="0.35" text-anchor="middle" fill="#161616">PaCa3</text>
<line x1="271.80" y1="440.50" x2="312.00" y2="440.50" stroke="#161616" stroke-width="1.1"/>
<text x="295.00" y="454.60" font-size="11" font-weight="bold" stroke="#161616" stroke-width="0.35" text-anchor="middle" fill="#161616">Panc1</text>
<line x1="325.80" y1="440.50" x2="366.70" y2="440.50" stroke="#161616" stroke-width="1.1"/>
<text x="347.70" y="454.60" font-size="11" font-weight="bold" stroke="#161616" stroke-width="0.35" text-anchor="middle" fill="#161616">CFPAC1</text>
<line x1="379.90" y1="440.50" x2="420.70" y2="440.50" stroke="#161616" stroke-width="1.1"/>
<text x="399.70" y="454.60" font-size="11" font-weight="bold" stroke="#161616" stroke-width="0.35" text-anchor="middle" fill="#161616">T3M4</text>
<line x1="431.00" y1="440.50" x2="471.80" y2="440.50" stroke="#161616" stroke-width="1.1"/>
<text x="452.00" y="454.60" font-size="11" font-weight="bold" stroke="#161616" stroke-width="0.35" text-anchor="middle" fill="#161616">MiaPaCa2</text>
<line x1="481.10" y1="440.50" x2="524.00" y2="440.50" stroke="#161616" stroke-width="1.1"/>
<text x="512.80" y="454.60" font-size="11" font-weight="bold" stroke="#161616" stroke-width="0.35" text-anchor="middle" fill="#161616">fibroblasts</text>
<line x1="164.60" y1="460.50" x2="317.00" y2="460.50" stroke="#161616" stroke-width="1.1"/>
<text x="241.50" y="473.60" font-size="11" font-weight="bold" stroke="#161616" stroke-width="0.35" text-anchor="middle" fill="#161616">GEM-resistant cell lines</text>
<line x1="325.30" y1="460.50" x2="477.70" y2="460.50" stroke="#161616" stroke-width="1.1"/>
<text x="401.80" y="473.60" font-size="11" font-weight="bold" stroke="#161616" stroke-width="0.35" text-anchor="middle" fill="#161616">GEM-sensitive cell lines</text>
<rect x="477.50" y="258.50" width="10.00" height="7.00" fill="#fff" stroke="#1c1c1c" stroke-width="1"/>
<text x="495.00" y="262.50" font-size="11" font-weight="bold" stroke="#161616" stroke-width="0.35" text-anchor="start" fill="#161616">synergism</text>
<text x="495.00" y="275.60" font-size="11" font-weight="bold" stroke="#161616" stroke-width="0.35" text-anchor="start" fill="#161616">0.3&lt;CI&lt;1</text>
<rect x="477.20" y="289.60" width="11.40" height="7.60" fill="#141414"/>
<text x="495.00" y="296.80" font-size="11" font-weight="bold" stroke="#161616" stroke-width="0.35" text-anchor="start" fill="#161616">strong synergism</text>
<text x="495.00" y="309.50" font-size="11" font-weight="bold" stroke="#161616" stroke-width="0.35" text-anchor="start" fill="#161616">CI&lt;0.3</text>
</svg>
</body></html>
